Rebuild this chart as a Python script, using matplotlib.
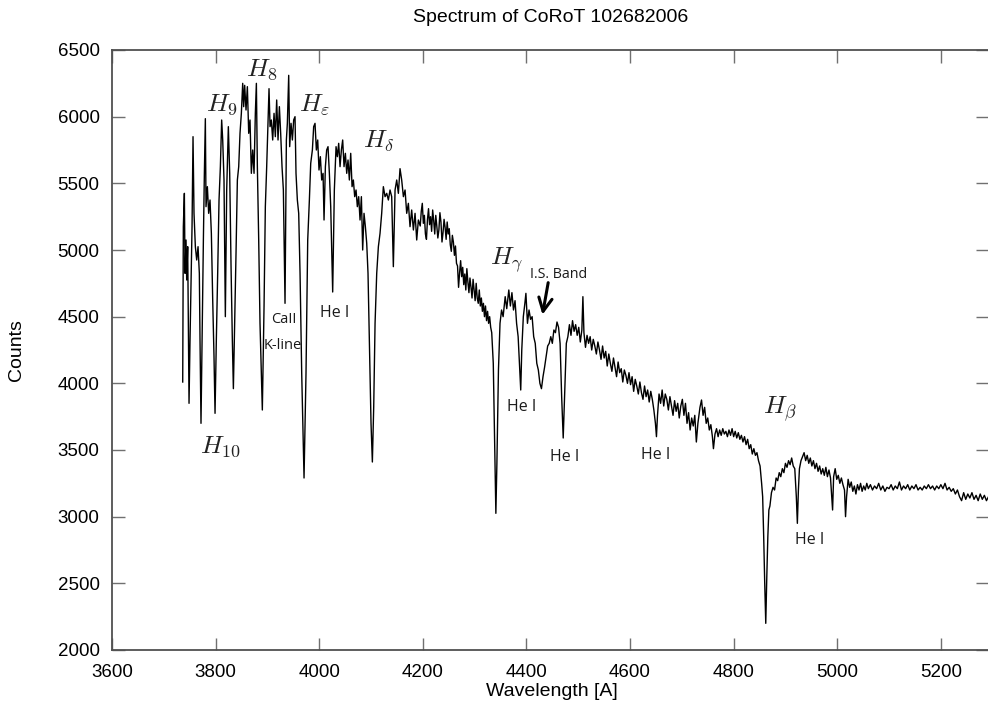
import matplotlib
matplotlib.use("Agg")
import matplotlib.pyplot as plt
import numpy as np

# ---------------- data ----------------
blue_wl = [3736.5, 3737.7, 3739.7, 3741.0, 3742.9, 3744.2, 3746.1, 3747.4, 3748.7, 3750.6,
           3752.5, 3754.5, 3756.4, 3758.3, 3760.9, 3763.5, 3766.1, 3768.6, 3769.9, 3771.8,
           3773.8, 3776.4, 3778.3, 3780.2, 3781.5, 3784.1, 3786.6, 3789.2, 3791.8, 3794.4,
           3796.9, 3798.9, 3801.4, 3804.0, 3806.6, 3809.2, 3811.7, 3813.7, 3816.2, 3818.8,
           3821.4, 3824.6, 3827.2, 3829.8, 3832.3, 3834.3, 3836.8, 3839.4, 3842.0, 3844.6,
           3847.1, 3849.7, 3852.3, 3854.2, 3856.1, 3858.7, 3861.3, 3863.9, 3866.4, 3869.0,
           3871.6, 3874.2, 3876.7, 3878.7, 3880.6, 3883.2, 3885.7, 3890.2, 3893.5, 3896.0,
           3898.6, 3901.2, 3903.1, 3905.1, 3907.6, 3910.2, 3912.8, 3915.3, 3917.9, 3920.5,
           3923.1, 3925.6, 3928.2, 3930.8, 3934.0, 3936.6, 3938.5, 3941.1, 3943.0, 3945.6,
           3948.2, 3950.7, 3953.3, 3955.2, 3957.8, 3960.4, 3963.0, 3966.2, 3970.7, 3974.5,
           3977.8, 3981.0, 3983.6, 3986.8, 3989.3, 3991.9, 3994.5, 3997.1, 3999.6, 4002.2,
           4004.8, 4007.4, 4009.3, 4011.9, 4014.4, 4017.0, 4019.6, 4022.2, 4026.0, 4029.2,
           4032.5, 4035.0, 4037.6, 4040.2, 4042.8, 4045.3, 4047.9, 4050.5, 4053.1, 4055.6,
           4058.2, 4060.8, 4063.4, 4065.9, 4068.5, 4071.1, 4073.6, 4076.2, 4078.8, 4081.4,
           4083.9, 4086.5, 4089.1, 4091.7, 4094.2, 4096.8, 4100.0, 4102.6, 4105.2, 4107.8,
           4111.0, 4114.2, 4117.4, 4120.6, 4123.8, 4127.1, 4130.3, 4133.5, 4136.7, 4139.9,
           4143.1, 4146.4, 4149.6, 4152.8, 4156.0, 4159.2, 4162.5, 4165.7, 4168.9, 4172.1,
           4175.3, 4178.5, 4181.8, 4185.0, 4188.2, 4191.4]
blue_counts = [4010, 5175, 5425, 4825, 5075, 4775, 5025, 4450, 3850, 4325,
               4725, 5175, 5850, 5275, 5025, 4925, 5025, 4825, 4325, 3700,
               4325, 5075, 5575, 5985, 5325, 5475, 5275, 5375, 5125, 4625,
               4200, 3775, 4325, 4825, 5375, 5625, 5975, 5825, 5525, 4500,
               5450, 5925, 5575, 4875, 4325, 3960, 4450, 4975, 5525, 5625,
               5875, 6025, 6250, 6075, 6235, 6050, 6225, 5875, 5975, 5575,
               5750, 5575, 6025, 6250, 5625, 5075, 4450, 3800, 4575, 5325,
               5625, 5950, 6210, 5925, 5975, 5825, 6025, 5850, 6125, 5825,
               6075, 5875, 5625, 5450, 4600, 5825, 5950, 6310, 5775, 5950,
               5825, 5975, 6000, 5575, 5375, 5275, 4825, 4075, 3290, 4075,
               5075, 5375, 5650, 5750, 5925, 5950, 5750, 5825, 5600, 5700,
               5525, 5575, 5225, 5625, 5750, 5775, 5575, 5325, 4685, 5450,
               5775, 5700, 5800, 5625, 5750, 5825, 5625, 5725, 5575, 5675,
               5525, 5725, 5475, 5525, 5400, 5450, 5325, 5400, 5225, 5400,
               5000, 5275, 5175, 5050, 4825, 4325, 3700, 3410, 3825, 4450,
               4825, 5025, 5125, 5275, 5475, 5400, 5425, 5375, 5450, 5400,
               4875, 5450, 5525, 5425, 5610, 5525, 5400, 5450, 5275, 5350,
               5175, 5300, 5150, 5275, 5075, 5225]

mid_wl = [4195, 4197, 4199, 4201, 4203, 4205, 4207, 4209, 4211, 4213,
          4215, 4217, 4219, 4221, 4223, 4225, 4227, 4229, 4231, 4233,
          4235, 4237, 4239, 4241, 4243, 4245, 4247, 4249, 4251, 4253,
          4255, 4257, 4259, 4261, 4263, 4265, 4267, 4269, 4271, 4273,
          4275, 4277, 4279, 4281, 4283, 4285, 4287, 4289, 4291, 4293,
          4295, 4297, 4299, 4301, 4303, 4305, 4307, 4309, 4311, 4313,
          4315, 4317, 4319, 4321, 4323, 4325, 4327, 4329, 4331, 4333,
          4336, 4339, 4341, 4343,
          4346, 4349, 4352, 4355, 4359, 4362, 4366, 4369, 4372, 4375,
          4378, 4381, 4384, 4387, 4389, 4391, 4394, 4397, 4399, 4402,
          4405, 4408, 4411, 4414, 4417, 4420, 4423, 4426, 4429, 4432,
          4435, 4438, 4441, 4444, 4447, 4450, 4453, 4456, 4459, 4462,
          4465, 4468, 4471, 4474, 4477, 4480, 4483, 4486, 4489, 4492,
          4495, 4498, 4501, 4504, 4507, 4509, 4511, 4514, 4517, 4520,
          4523, 4526, 4529, 4532, 4535, 4538, 4541, 4544, 4547, 4550,
          4553, 4556, 4559, 4562, 4565, 4568, 4571, 4574, 4577, 4580,
          4583, 4586, 4589, 4592, 4595, 4598, 4601, 4604, 4607, 4610,
          4613, 4616, 4619, 4622, 4625, 4628, 4631, 4634, 4637, 4640,
          4643, 4646, 4649, 4651, 4653, 4656, 4659, 4662, 4665, 4668,
          4671, 4674, 4677, 4680, 4683, 4686, 4689, 4692, 4695, 4698]
mid_counts = [5180, 5290, 5350, 5200, 5260, 5120, 5080, 5230, 5310, 5190,
              5250, 5140, 5300, 5220, 5120, 5260, 5180, 5090, 5150, 5280,
              5210, 5060, 5130, 5230, 5170, 5080, 5210, 5120, 5160, 5040,
              4990, 5110, 5060, 4960, 5030, 4900, 4880, 4720, 4830, 4920,
              4800, 4870, 4740, 4820, 4700, 4860, 4760, 4680, 4790, 4720,
              4640, 4780, 4700, 4620, 4750, 4640, 4600, 4700, 4580, 4640,
              4540, 4600, 4500, 4580, 4470, 4540, 4450, 4500, 4420, 4380,
              4150, 3500, 3025, 3400,
              4100, 4450, 4550, 4500, 4650, 4560, 4700, 4580, 4680, 4550,
              4620, 4450, 4350, 4100, 3950, 4250, 4500, 4600, 4675, 4450,
              4550, 4480, 4500, 4350, 4300, 4150, 4100, 4000, 3960, 4050,
              4120, 4200, 4280, 4300, 4350, 4300, 4400, 4380, 4460, 4420,
              4300, 3900, 3590, 3950, 4300, 4350, 4440, 4360, 4470, 4390,
              4440, 4360, 4420, 4310, 4400, 4650, 4380, 4270, 4360, 4300,
              4350, 4250, 4330, 4280, 4220, 4310, 4250, 4180, 4280, 4190,
              4240, 4130, 4220, 4150, 4090, 4190, 4120, 4050, 4160, 4080,
              4110, 4010, 4100, 4060, 4000, 4080, 3990, 4050, 3940, 4030,
              3980, 3920, 4010, 3930, 3880, 3980, 3900, 3950, 3860, 3940,
              3880, 3800, 3700, 3600, 3760, 3920, 3850, 3950, 3830, 3920,
              3880, 3800, 3900, 3830, 3760, 3870, 3790, 3850, 3740, 3830]

red_wl = [4701, 4704, 4707, 4710, 4713, 4716, 4719, 4722, 4725, 4728,
          4731, 4735, 4738, 4741, 4744, 4747, 4750, 4753, 4756, 4759,
          4761, 4764, 4767, 4770, 4773, 4776, 4779, 4782, 4785, 4788,
          4791, 4794, 4797, 4800, 4803, 4806, 4809, 4812, 4815, 4818,
          4821, 4824, 4827, 4830, 4833, 4836, 4839, 4842, 4845, 4848,
          4851, 4854, 4856, 4858, 4860, 4862, 4864, 4866, 4868, 4870,
          4873, 4876, 4879, 4882, 4885, 4888, 4891, 4894, 4897, 4900,
          4903, 4906, 4909, 4912, 4915, 4918, 4921, 4923, 4925, 4927,
          4930, 4933, 4936, 4939, 4942, 4945, 4948, 4951, 4954, 4957,
          4960, 4963, 4966, 4969, 4972, 4975, 4978, 4981, 4984, 4987,
          4990, 4991, 4993, 4996, 4999, 5002, 5005, 5008, 5011, 5014,
          5016, 5018, 5021, 5024, 5027, 5030, 5033, 5036, 5039, 5042,
          5045, 5048, 5051, 5054, 5057]
red_counts = [3880, 3760, 3850, 3700, 3780, 3650, 3740, 3680, 3760, 3560,
              3700, 3820, 3875, 3760, 3820, 3700, 3740, 3650, 3690, 3600,
              3510, 3620, 3660, 3600, 3650, 3610, 3660, 3620, 3640, 3600,
              3650, 3610, 3660, 3600, 3640, 3590, 3630, 3580, 3610, 3560,
              3600, 3540, 3580, 3510, 3540, 3470, 3510, 3460, 3480, 3420,
              3380, 3250, 3150, 2850, 2500, 2200, 2550, 2850, 3050, 3080,
              3180, 3220, 3200, 3290, 3270, 3330, 3300, 3360, 3330, 3400,
              3370, 3420, 3390, 3440, 3380, 3360, 3150, 2950, 3200, 3360,
              3420, 3450, 3480, 3420, 3460, 3400, 3440, 3380, 3420, 3360,
              3400, 3340, 3380, 3320, 3360, 3310, 3370, 3300, 3350, 3290,
              3100, 3050, 3300, 3360, 3280, 3310, 3250, 3290, 3240, 3200,
              3000, 3150, 3280, 3220, 3260, 3190, 3230, 3170, 3240, 3200,
              3250, 3190, 3230, 3200, 3250]

tail_wl = [5060, 5064, 5068, 5072, 5076, 5080, 5084, 5088, 5092, 5096,
           5100, 5104, 5108, 5112, 5116, 5120, 5124, 5128, 5132, 5136,
           5140, 5144, 5148, 5152, 5156, 5160, 5164, 5168, 5172, 5176,
           5180, 5184, 5188, 5192, 5196, 5200, 5204, 5208, 5212, 5216,
           5220, 5224, 5228, 5232, 5236, 5240, 5244, 5248, 5252, 5256,
           5260, 5264, 5268, 5272, 5276, 5280, 5284, 5288, 5292]
tail_counts = [3210, 3240, 3200, 3230, 3210, 3250, 3200, 3230, 3190, 3220,
               3210, 3240, 3200, 3230, 3210, 3260, 3200, 3230, 3210, 3240,
               3200, 3230, 3210, 3240, 3200, 3220, 3200, 3230, 3210, 3240,
               3210, 3230, 3200, 3230, 3210, 3240, 3210, 3250, 3200, 3220,
               3190, 3210, 3170, 3200, 3150, 3120, 3180, 3130, 3170, 3140,
               3180, 3130, 3160, 3120, 3170, 3130, 3160, 3120, 3150]

title = "Spectrum of CoRoT 102682006"
xlabel = "Wavelength [A]"
ylabel = "Counts"
xticks = [3600, 3800, 4000, 4200, 4400, 4600, 4800, 5000, 5200]
yticks = [2000, 2500, 3000, 3500, 4000, 4500, 5000, 5500, 6000, 6500]

# line identifications: (text, wavelength, counts)
balmer_labels = [(r"$H_{9}$", 3811, 6095), (r"$H_{8}$", 3889, 6354),
                 (r"$H_{\varepsilon}$", 3990, 6095), (r"$H_{\delta}$", 4115, 5814),
                 (r"$H_{10}$", 3810, 3530), (r"$H_{\gamma}$", 4362, 4925),
                 (r"$H_{\beta}$", 4890, 3807)]
small_labels = [("CaII", 3932, 4479, 10.5), ("K-line", 3929, 4287, 10.5),
                ("He I", 4030, 4527, 11.5), ("He I", 4391, 3819, 11.5),
                ("He I", 4474, 3444, 11.5), ("He I", 4650, 3462, 11.5),
                ("He I", 4946, 2825, 11.5), ("I.S. Band", 4462, 4820, 10.3)]
arrow_tail = (4442, 4755)
arrow_tip = (4431, 4515)

# ---------------- plotting ----------------
plt.rcParams['mathtext.fontset'] = 'cm'
fig = plt.figure(figsize=(9.88, 7.10), dpi=100)
ax = fig.add_axes([112/988, 60/710, 1 - 112/988, 600/710])

wl = np.concatenate([blue_wl, mid_wl, red_wl, tail_wl])
counts = np.concatenate([blue_counts, mid_counts, red_counts, tail_counts])
ax.plot(wl, counts, color='black', lw=1.0)

ax.set_xlim(3600, 5291)
ax.set_ylim(2000, 6500)
ax.set_xticks(xticks)
ax.set_yticks(yticks)
for s in ['left', 'bottom', 'top']:
    ax.spines[s].set_color('#505050')
    ax.spines[s].set_linewidth(1.3)
ax.spines['right'].set_visible(False)
ax.tick_params(direction='in', length=9, width=1, color='#707070',
               top=True, right=True, labelsize=13.5)
ax.tick_params(axis='x', pad=10)
ax.tick_params(axis='y', pad=9)
for lab in ax.get_xticklabels() + ax.get_yticklabels():
    lab.set_family('Liberation Sans')

fig.text(551/988, 1 - 18/710, title, ha='center', va='center',
         fontsize=14, family='Liberation Sans')
fig.text(552/988, 1 - 692/710, xlabel, ha='center', va='center',
         fontsize=14, family='Liberation Sans')
fig.text(17/988, 1 - 350/710, ylabel, ha='center', va='center',
         rotation=90, fontsize=14, family='Liberation Sans')

for txt, x, y in balmer_labels:
    ax.text(x, y, txt, ha='center', va='center', fontsize=18.5, color='#222222')
for txt, x, y, fs in small_labels:
    ax.text(x, y, txt, ha='center', va='center', fontsize=fs,
            family='Open Sans', color='#1a1a1a')
ax.annotate("", xy=arrow_tip, xytext=arrow_tail,
            arrowprops=dict(arrowstyle='->', lw=2.2, color='black',
                            mutation_scale=24, shrinkA=0, shrinkB=0))

fig.savefig("out.png", dpi=100)
